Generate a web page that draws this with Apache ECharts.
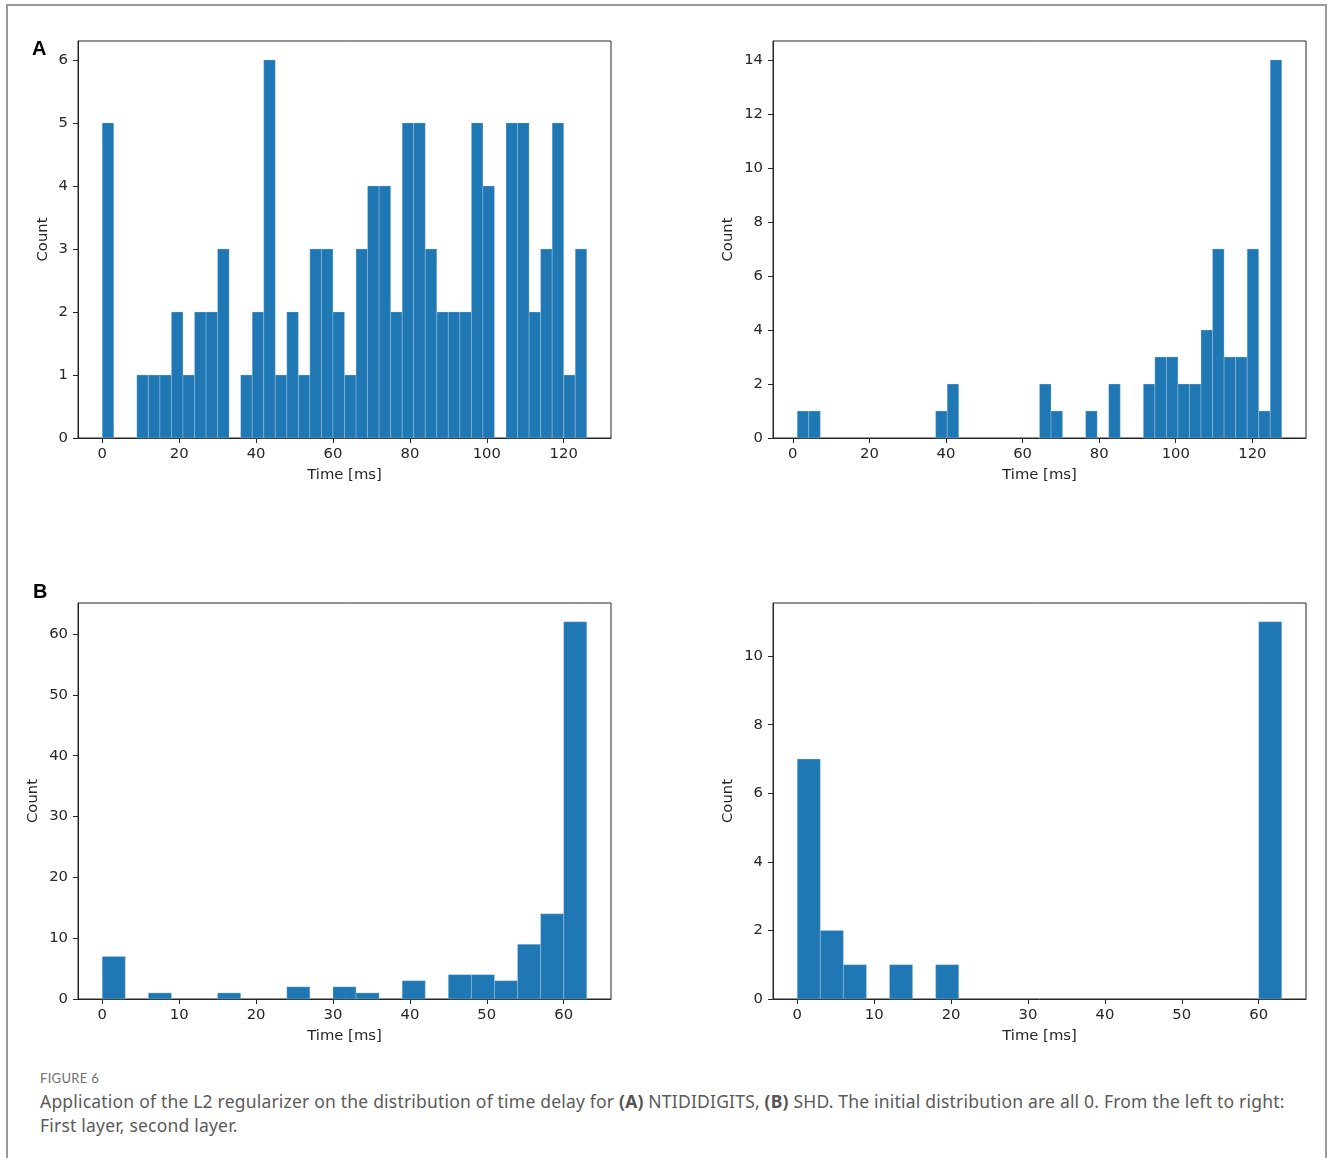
<!DOCTYPE html>
<html>
<head>
<meta charset="utf-8">
<title>Figure 6 – time delay distributions</title>
<script src="https://cdn.jsdelivr.net/npm/echarts@6/dist/echarts.min.js"></script>
<style>
  html, body { margin: 0; padding: 0; background: #fff; }
  #wrap { position: relative; width: 1330px; height: 1158px; overflow: hidden; }
  #frame {
    position: absolute; left: 6px; top: 4px; width: 1321px; height: 1170px;
    border: 2px solid #9a9a9a; box-sizing: border-box;
  }
  #chart { position: absolute; left: 0; top: 0; width: 1330px; height: 1060px; }
  #caption {
    position: absolute; left: 40px; top: 1068px; width: 1280px;
    font-family: "Noto Sans", Lato, sans-serif; color: #5a5a5a;
  }
  #caption .fig { font-family: Lato, sans-serif; font-size: 13px; letter-spacing: 0.3px; color: #707070; line-height: 20px; }
  #caption .txt { font-size: 17.5px; letter-spacing: 0.2px; line-height: 24px; margin-top: 1px; white-space: nowrap; }
  #caption b { font-weight: 700; color: #555; }
</style>
</head>
<body>
<div id="wrap">
  <div id="frame"></div>
  <div id="chart"></div>
  <div id="caption">
    <div class="fig">FIGURE 6</div>
    <div class="txt">Application of the L2 regularizer on the distribution of time delay for <b>(A)</b> NTIDIDIGITS, <b>(B)</b> SHD. The initial distribution are all 0. From the left to right:<br>First layer, second layer.</div>
  </div>
</div>
<script>
// ---- histogram data (counts per bin) ----
// (A) NTIDIDIGITS, first layer: 42 bins of 3 ms starting at 0 ms
const ntiLayer1Start = 0;
const ntiLayer1Width = 3;
const ntiLayer1Counts = [5, 0, 0, 1, 1, 1, 2, 1, 2, 2, 3, 0, 1, 2, 6, 1, 2, 1, 3, 3, 2,
                         1, 3, 4, 4, 2, 5, 5, 3, 2, 2, 2, 5, 4, 0, 5, 5, 2, 3, 5, 1, 3];

// (A) NTIDIDIGITS, second layer: 42 bins spanning ~1.16 .. 127.7 ms
const ntiLayer2Start = 1.16;
const ntiLayer2Width = 3.0125;
const ntiLayer2Counts = [1, 1, 0, 0, 0, 0, 0, 0, 0, 0, 0, 0, 1, 2, 0, 0, 0, 0, 0, 0, 0,
                         2, 1, 0, 0, 1, 0, 2, 0, 0, 2, 3, 3, 2, 2, 4, 7, 3, 3, 7, 1, 14];

// (B) SHD, first layer: 21 bins of 3 ms starting at 0 ms
const shdLayer1Start = 0;
const shdLayer1Width = 3;
const shdLayer1Counts = [7, 0, 1, 0, 0, 1, 0, 0, 2, 0, 2, 1, 0, 3, 0, 4, 4, 3, 9, 14, 62];

// (B) SHD, second layer: 21 bins of 3 ms starting at 0 ms
const shdLayer2Start = 0;
const shdLayer2Width = 3;
const shdLayer2Counts = [7, 2, 1, 0, 1, 0, 1, 0, 0, 0, 0, 0, 0, 0, 0, 0, 0, 0, 0, 0, 11];

// ---- tick labels ----
const ticksTimeA = [0, 20, 40, 60, 80, 100, 120];
const ticksTimeB = [0, 10, 20, 30, 40, 50, 60];
const ticksCountA1 = [0, 1, 2, 3, 4, 5, 6];
const ticksCountA2 = [0, 2, 4, 6, 8, 10, 12, 14];
const ticksCountB1 = [0, 10, 20, 30, 40, 50, 60];
const ticksCountB2 = [0, 2, 4, 6, 8, 10];

const xTitle = 'Time [ms]';
const yTitle = 'Count';

// ---- layout of the four panels (pixels) ----
const panels = [
  { start: ntiLayer1Start, width: ntiLayer1Width, counts: ntiLayer1Counts, xt: ticksTimeA, yt: ticksCountA1,
    grid: { left: 78, top: 41, width: 533, height: 397 }, yGap: 27 },
  { start: ntiLayer2Start, width: ntiLayer2Width, counts: ntiLayer2Counts, xt: ticksTimeA, yt: ticksCountA2,
    grid: { left: 773, top: 41, width: 533, height: 397 }, yGap: 37 },
  { start: shdLayer1Start, width: shdLayer1Width, counts: shdLayer1Counts, xt: ticksTimeB, yt: ticksCountB1,
    grid: { left: 78, top: 603, width: 533, height: 396 }, yGap: 37 },
  { start: shdLayer2Start, width: shdLayer2Width, counts: shdLayer2Counts, xt: ticksTimeB, yt: ticksCountB2,
    grid: { left: 773, top: 603, width: 533, height: 396 }, yGap: 37 }
];

const BAR = '#1f77b4';
const INK = '#262626';
const TICK_FONT = '"DejaVu Sans", sans-serif';
const TICK_SIZE = 14.8;

const grids = [], xAxes = [], yAxes = [], series = [];

panels.forEach((p, i) => {
  const end = p.start + p.width * p.counts.length;
  const span = end - p.start;
  const maxCount = Math.max(...p.counts);

  grids.push(Object.assign({ show: true, borderColor: INK, borderWidth: 1, backgroundColor: 'transparent' }, p.grid));

  xAxes.push({
    type: 'value', gridIndex: i,
    min: p.start - 0.05 * span, max: end + 0.05 * span,
    splitLine: { show: false },
    axisLine: { show: true, onZero: false, lineStyle: { color: INK, width: 1 } },
    axisTick: { show: true, customValues: p.xt, length: 5, lineStyle: { color: INK, width: 1 } },
    axisLabel: { customValues: p.xt, color: INK, fontSize: TICK_SIZE, fontFamily: TICK_FONT, margin: 9 },
    name: xTitle, nameLocation: 'middle', nameGap: 30,
    nameTextStyle: { color: INK, fontSize: TICK_SIZE, fontFamily: TICK_FONT }
  });

  yAxes.push({
    type: 'value', gridIndex: i,
    min: 0, max: maxCount * 1.05,
    splitLine: { show: false },
    axisLine: { show: true, onZero: false, lineStyle: { color: INK, width: 1 } },
    axisTick: { show: true, customValues: p.yt, length: 5, lineStyle: { color: INK, width: 1 } },
    axisLabel: { customValues: p.yt, color: INK, fontSize: TICK_SIZE, fontFamily: TICK_FONT, margin: 10 },
    name: yTitle, nameLocation: 'middle', nameGap: p.yGap, nameRotate: 90,
    nameTextStyle: { color: INK, fontSize: TICK_SIZE, fontFamily: TICK_FONT }
  });

  // one rectangle per non-empty bin: [left edge, right edge, count]
  const data = [];
  p.counts.forEach((c, k) => {
    if (c > 0) data.push([p.start + k * p.width, p.start + (k + 1) * p.width, c]);
  });

  series.push({
    type: 'custom', xAxisIndex: i, yAxisIndex: i,
    encode: { x: [0, 1], y: 2 },
    data: data,
    renderItem: function (params, api) {
      const topLeft = api.coord([api.value(0), api.value(2)]);
      const bottomRight = api.coord([api.value(1), 0]);
      return {
        type: 'rect',
        shape: { x: topLeft[0], y: topLeft[1], width: bottomRight[0] - topLeft[0], height: bottomRight[1] - topLeft[1] },
        style: { fill: BAR, stroke: 'rgba(190,215,235,0.55)', lineWidth: 0.6 }
      };
    }
  });
});

const chart = echarts.init(document.getElementById('chart'), null, { renderer: 'canvas' });
chart.setOption({
  animation: false,
  grid: grids,
  xAxis: xAxes,
  yAxis: yAxes,
  series: series,
  graphic: [
    { type: 'text', left: 32, top: 39, style: { text: 'A', font: 'bold 20px "Liberation Sans", Arial, sans-serif', fill: '#000' } },
    { type: 'text', left: 33, top: 582, style: { text: 'B', font: 'bold 20px "Liberation Sans", Arial, sans-serif', fill: '#000' } }
  ]
});
</script>
</body>
</html>
